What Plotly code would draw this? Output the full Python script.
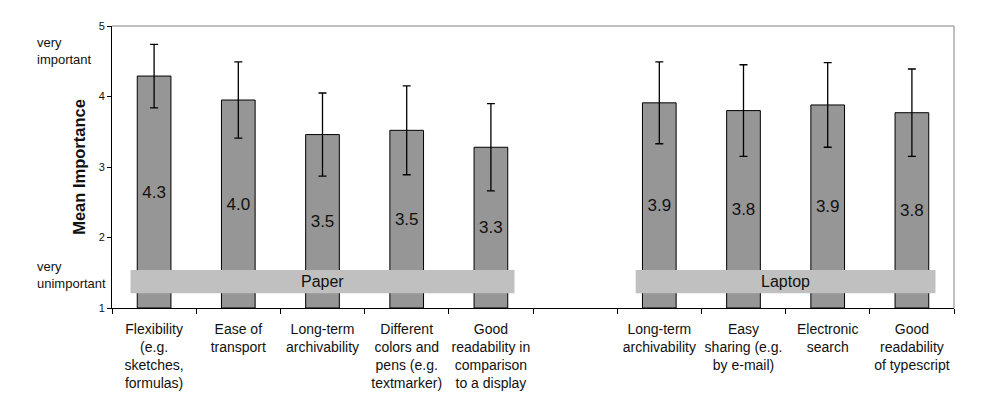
"""Mean importance of paper vs. laptop features (bar chart with error bars)."""

import plotly.graph_objects as go

FONT = "Liberation Sans, Arial, sans-serif"
BAR = "#969696"
BAND = "#c0c0c0"
FRAME = "#808080"

# slot labels, "" marks the empty gap between the two groups
slot_labels = [
    "Flexibility<br>(e.g.<br>sketches,<br>formulas)",
    "Ease of<br>transport",
    "Long-term<br>archivability",
    "Different<br>colors and<br>pens (e.g.<br>textmarker)",
    "Good<br>readability in<br>comparison<br>to a display",
    "",
    "Long-term<br>archivability",
    "Easy<br>sharing (e.g.<br>by e-mail)",
    "Electronic<br>search",
    "Good<br>readability<br>of typescript",
]
means = [4.29, 3.95, 3.46, 3.52, 3.28, 3.91, 3.80, 3.88, 3.77]
sds = [0.45, 0.54, 0.59, 0.63, 0.62, 0.58, 0.65, 0.60, 0.62]
mean_text = ["4.3", "4.0", "3.5", "3.5", "3.3", "3.9", "3.8", "3.9", "3.8"]
groups = ["Paper", "Laptop"]
group_slots = [[0, 1, 2, 3, 4], [6, 7, 8, 9]]

bar_x = [i for i, lab in enumerate(slot_labels) if lab]

fig = go.Figure()
# bars start at 1 (bottom of the scale)
fig.add_trace(
    go.Bar(
        x=bar_x,
        y=[m - 1 for m in means],
        base=1,
        width=0.4,
        marker={"color": BAR, "line": {"color": "#000000", "width": 1}},
        error_y={"type": "data", "array": sds, "color": "#000000", "thickness": 1.3, "width": 4},
        text=mean_text,
        textposition="inside",
        insidetextanchor="middle",
        textangle=0,
        textfont={"size": 17, "color": "#111111", "family": FONT},
        hoverinfo="skip",
    )
)

for name, slots in zip(groups, group_slots):
    x0, x1 = min(slots) - 0.28, max(slots) + 0.28
    fig.add_shape(type="rect", x0=x0, x1=x1, y0=1.21, y1=1.54, xref="x", yref="y",
                  fillcolor=BAND, line={"width": 0}, layer="above")
    fig.add_annotation(x=(x0 + x1) / 2, y=1.375, text=name, showarrow=False,
                       font={"size": 16, "color": "#111111", "family": FONT})

# grey top/right frame
fig.add_shape(type="line", x0=0, x1=1, y0=1, y1=1, xref="x domain", yref="y domain",
              line={"color": FRAME, "width": 1})
fig.add_shape(type="line", x0=1, x1=1, y0=0, y1=1, xref="x domain", yref="y domain",
              line={"color": FRAME, "width": 1})

fig.add_annotation(x=-0.0914, y=4.64, xref="paper", yref="y", text="very<br>important",
                   showarrow=False, xanchor="left", align="left",
                   font={"size": 13, "color": "#111111", "family": FONT})
fig.add_annotation(x=-0.0914, y=1.47, xref="paper", yref="y", text="very<br>unimportant",
                   showarrow=False, xanchor="left", align="left",
                   font={"size": 13, "color": "#111111", "family": FONT})

# page body adds 8px, so the figure is 8px smaller than the window
fig.update_layout(
    width=994,
    height=406,
    margin={"l": 104, "r": 48, "t": 13, "b": 106},
    paper_bgcolor="#ffffff",
    plot_bgcolor="#ffffff",
    font={"family": FONT, "color": "#111111"},
    showlegend=False,
)
fig.update_xaxes(
    range=[-0.5, len(slot_labels) - 0.5],
    tickvals=list(range(len(slot_labels))),
    ticktext=slot_labels,
    ticks="",
    tickfont={"size": 14},
    ticklabelstandoff=8,
    minor={"tick0": -0.5, "dtick": 1, "ticks": "outside", "ticklen": 5, "tickcolor": "#000000"},
    showline=True,
    linecolor="#000000",
    linewidth=1,
    showgrid=False,
    zeroline=False,
)
fig.update_yaxes(
    range=[1, 5],
    tickvals=[1, 2, 3, 4, 5],
    ticks="outside",
    ticklen=4,
    tickcolor="#000000",
    tickfont={"size": 11},
    showline=True,
    linecolor="#000000",
    linewidth=1,
    showgrid=False,
    zeroline=False,
    title={"text": "<b>Mean Importance</b>", "font": {"size": 16.5}, "standoff": 8},
)

fig.write_html("out.html")
